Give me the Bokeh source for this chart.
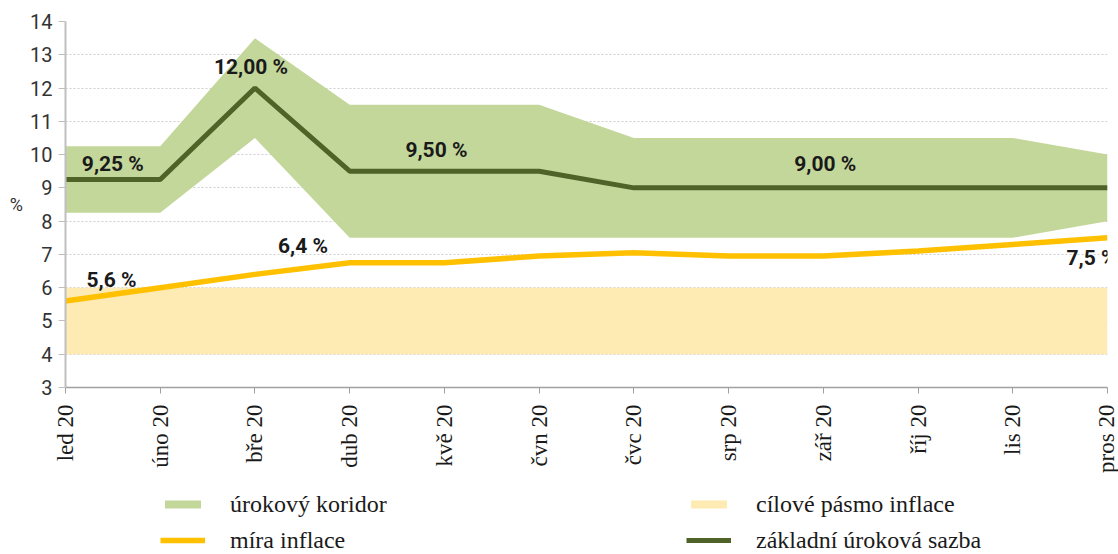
import math
from bokeh.plotting import figure
from bokeh.layouts import column
from bokeh.models import (ColumnDataSource, FixedTicker, Label, Legend, LegendItem, Range1d)
from bokeh.embed import file_html
from bokeh.resources import INLINE

# ---- data ----
months = ["led 20", "úno 20", "bře 20", "dub 20", "kvě 20", "čvn 20",
          "čvc 20", "srp 20", "zář 20", "říj 20", "lis 20", "pros 20"]
base_rate = [9.25, 9.25, 12.0, 9.5, 9.5, 9.5, 9.0, 9.0, 9.0, 9.0, 9.0, 9.0]
corridor_upper = [10.25, 10.25, 13.5, 11.5, 11.5, 11.5, 10.5, 10.5, 10.5, 10.5, 10.5, 10.0]
corridor_lower = [8.25, 8.25, 10.5, 7.5, 7.5, 7.5, 7.5, 7.5, 7.5, 7.5, 7.5, 8.0]
inflation = [5.6, 6.0, 6.4, 6.75, 6.75, 6.95, 7.05, 6.95, 6.95, 7.1, 7.3, 7.5]
target_low = [4.0] * 12
target_high = [6.0] * 12
y_ticks = list(range(3, 15))

legend_labels = ["úrokový koridor", "míra inflace", "cílové pásmo inflace", "základní úroková sazba"]

x = list(range(len(months)))
src = ColumnDataSource(dict(x=x, base=base_rate, up=corridor_upper, lo=corridor_lower,
                            infl=inflation, tlo=target_low, thi=target_high))

GREEN_BAND = "#C4D79B"
GREEN_LINE = "#4F6228"
YELLOW_LINE = "#FFC000"
YELLOW_BAND = "#FEEBB3"

W = 1118


def add_series(fig):
    rt = fig.varea(x="x", y1="tlo", y2="thi", source=src, fill_color=YELLOW_BAND)
    rc = fig.varea(x="x", y1="lo", y2="up", source=src, fill_color=GREEN_BAND)
    ri = fig.line(x="x", y="infl", source=src, line_color=YELLOW_LINE, line_width=5.5)
    rb = fig.line(x="x", y="base", source=src, line_color=GREEN_LINE, line_width=5)
    return rt, rc, ri, rb


p = figure(width=W, height=487, x_range=Range1d(0, len(months) - 1), y_range=Range1d(3, 14),
           output_backend="svg", toolbar_location=None,
           min_border_left=65, min_border_right=11, min_border_top=21, min_border_bottom=100)
p.outline_line_color = None
p.background_fill_color = "white"

add_series(p)

# axes
p.xgrid.visible = False
p.ygrid.grid_line_color = "#CFCFCF"
p.ygrid.grid_line_dash = "2 2"
p.ygrid.grid_line_width = 1
p.ygrid.ticker = FixedTicker(ticks=y_ticks)

p.yaxis.ticker = FixedTicker(ticks=y_ticks)
p.yaxis.axis_label = "%"
p.yaxis.axis_label_orientation = "horizontal"
p.yaxis.axis_label_text_font = "Roboto"
p.yaxis.axis_label_text_font_style = "normal"
p.yaxis.axis_label_text_font_size = "18px"
p.yaxis.axis_label_text_color = "#333333"
p.yaxis.axis_label_standoff = 4
p.yaxis.major_label_text_font = "Roboto"
p.yaxis.major_label_text_font_size = "20px"
p.yaxis.major_label_text_color = "#333333"
p.yaxis.major_label_standoff = 6
p.yaxis.major_tick_out = 7
p.yaxis.major_tick_in = 0
p.yaxis.minor_tick_out = 0
p.yaxis.minor_tick_in = 0
p.yaxis.axis_line_color = "#BFBFBF"
p.yaxis.axis_line_width = 2
p.yaxis.major_tick_line_color = "#BFBFBF"

p.xaxis.ticker = FixedTicker(ticks=x)
p.xaxis.major_label_overrides = {i: m for i, m in enumerate(months)}
p.xaxis.major_label_orientation = math.pi / 2
p.xaxis.major_label_text_font = "Liberation Serif"
p.xaxis.major_label_text_font_size = "23px"
p.xaxis.major_label_text_color = "#1a1a1a"
p.xaxis.major_label_standoff = 11
p.xaxis.major_tick_out = 6
p.xaxis.major_tick_in = 0
p.xaxis.minor_tick_out = 0
p.xaxis.minor_tick_in = 0
p.xaxis.axis_line_color = "#A0A0A0"
p.xaxis.axis_line_width = 1.5
p.xaxis.major_tick_line_color = "#A0A0A0"


# data labels
def fmt(v, d):
    return (f"{v:.{d}f} %").replace(".", ",")


label_specs = [
    (fmt(base_rate[0], 2), 0.5, base_rate[0], 0, 16, "center"),
    (fmt(base_rate[2], 2), 2, base_rate[2], -4, 21, "center"),
    (fmt(base_rate[4], 2), 4, base_rate[4], -8, 21, "center"),
    (fmt(base_rate[8], 2), 8, base_rate[8], 2, 24, "center"),
    (fmt(inflation[0], 1), 0, inflation[0], 46, 21, "center"),
    (fmt(inflation[2], 1), 2, inflation[2], 48, 28, "center"),
    (fmt(inflation[11], 1), 11, inflation[11], 9, -20, "right"),
]
for txt, lx, ly, dx, dy, al in label_specs:
    p.add_layout(Label(x=lx, y=ly, text=txt, x_offset=dx, y_offset=dy,
                       text_align=al, text_baseline="middle",
                       text_font="Roboto", text_font_style="bold",
                       text_font_size="21px", text_color="#1a1a1a"))

# legend figure (series drawn out of view, only the legend is visible)
pl = figure(width=W, height=67, x_range=Range1d(-100, -99), y_range=Range1d(-100, -99),
            output_backend="svg", toolbar_location=None, x_axis_type=None, y_axis_type=None,
            min_border_left=0, min_border_right=0, min_border_top=0, min_border_bottom=0)
pl.outline_line_color = None
pl.grid.visible = False
lt, lc, li, lb = add_series(pl)


def make_legend(items, vx):
    return Legend(items=items, location=(vx, 0), orientation="vertical",
                  glyph_width=45, glyph_height=10, label_standoff=25, spacing=8,
                  label_height=28, padding=0, margin=0, border_line_color=None,
                  background_fill_alpha=0,
                  label_text_font="Liberation Serif", label_text_font_size="24px",
                  label_text_color="#1a1a1a")


lg1 = make_legend([LegendItem(label=legend_labels[0], renderers=[lc]),
                   LegendItem(label=legend_labels[1], renderers=[li])], 95)
lg2 = make_legend([LegendItem(label=legend_labels[2], renderers=[lt]),
                   LegendItem(label=legend_labels[3], renderers=[lb])], 621)
pl.add_layout(lg1, "center")
pl.add_layout(lg2, "center")

layout = column(p, pl, spacing=0)
open("out.html", "w").write(file_html(layout, INLINE))
